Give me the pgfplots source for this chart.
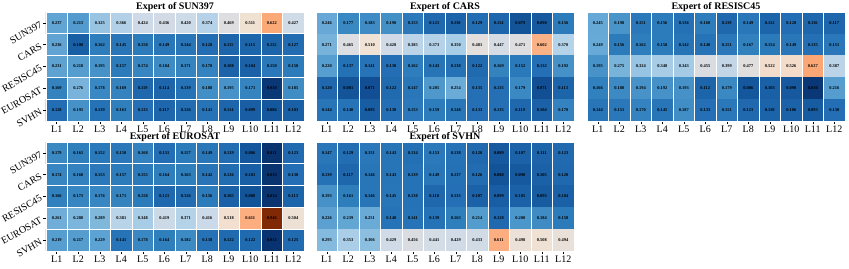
\documentclass[border=0pt]{standalone}
\usepackage{pgfplots}
\usepackage{pgfplotstable}
\pgfplotsset{compat=1.18}
\usepackage{fontspec}
\setmainfont{Liberation Serif}

\pgfplotsset{
 colormap={bluorg}{
  rgb255(0pt)=(8,48,107)
  rgb255(30pt)=(10,56,118)
  rgb255(60pt)=(14,72,140)
  rgb255(100pt)=(25,95,165)
  rgb255(130pt)=(35,110,180)
  rgb255(160pt)=(45,125,188)
  rgb255(200pt)=(75,150,203)
  rgb255(250pt)=(105,170,215)
  rgb255(300pt)=(135,188,222)
  rgb255(360pt)=(175,208,232)
  rgb255(420pt)=(205,218,232)
  rgb255(470pt)=(222,222,224)
  rgb255(510pt)=(240,226,212)
  rgb255(540pt)=(246,214,193)
  rgb255(600pt)=(251,178,135)
  rgb255(620pt)=(252,170,122)
  rgb255(700pt)=(240,125,60)
  rgb255(800pt)=(200,80,20)
  rgb255(950pt)=(127,39,4)
 },
 hm/.style={
  scale only axis, width=258pt, height=109pt,
  anchor=south west,
  xmin=-0.5, xmax=11.5, ymin=-0.5, ymax=4.5, y dir=reverse,
  enlargelimits=false,
  colormap name=bluorg, point meta min=0, point meta max=0.95,
  xtick={0,1,2,3,4,5,6,7,8,9,10,11},
  xticklabels={L1,L2,L3,L4,L5,L6,L7,L8,L9,L10,L11,L12},
  ytick={0,1,2,3,4},
  yticklabels={SUN397,CARS,RESISC45,EUROSAT,SVHN},
  yticklabel style={rotate=30, anchor=east, inner sep=2pt},
  xticklabel style={inner sep=2pt},
  minor xtick={0.5,1.5,2.5,3.5,4.5,5.5,6.5,7.5,8.5,9.5,10.5},
  minor ytick={0.5,1.5,2.5,3.5},
  grid=minor, major grid style={draw=none},
  minor grid style={white, line width=0.8pt},
  minor tick length=0pt,
  axis on top,
  axis line style={white, line width=0.8pt},
  tick align=outside, major tick length=3pt,
  tick style={black, line width=0.5pt},
  tick pos=left,
  ticklabel style={font=\fontsize{10}{10}\selectfont},
  every axis title shift=0pt,
  title style={font=\bfseries\fontsize{10}{10}\selectfont, at={(0.5,1)}, anchor=base, yshift=2.2pt},
 },
 noy/.style={ytick=\empty},
 cells/.style={matrix plot*, mesh/cols=12, point meta=explicit},
 vals/.style={only marks, mark=*, mark size=0pt, point meta=explicit symbolic,
  nodes near coords={\pgfplotspointmeta},
  every node near coord/.append style={font=\bfseries\fontsize{4.4}{4.4}\selectfont, text=black, anchor=center, inner sep=0pt}},
}

\pgfplotstableread[row sep=\\]{
x y v\\
0 0 0.237\\ 1 0 0.213\\ 2 0 0.325\\ 3 0 0.366\\ 4 0 0.424\\ 5 0 0.436\\ 6 0 0.420\\ 7 0 0.374\\ 8 0 0.469\\ 9 0 0.511\\ 10 0 0.622\\ 11 0 0.427\\
0 1 0.236\\ 1 1 0.100\\ 2 1 0.162\\ 3 1 0.145\\ 4 1 0.158\\ 5 1 0.149\\ 6 1 0.144\\ 7 1 0.128\\ 8 1 0.115\\ 9 1 0.115\\ 10 1 0.112\\ 11 1 0.127\\
0 2 0.231\\ 1 2 0.218\\ 2 2 0.195\\ 3 2 0.157\\ 4 2 0.174\\ 5 2 0.184\\ 6 2 0.171\\ 7 2 0.170\\ 8 2 0.108\\ 9 2 0.104\\ 10 2 0.150\\ 11 2 0.158\\
0 3 0.169\\ 1 3 0.276\\ 2 3 0.178\\ 3 3 0.169\\ 4 3 0.119\\ 5 3 0.114\\ 6 3 0.139\\ 7 3 0.188\\ 8 3 0.195\\ 9 3 0.171\\ 10 3 0.030\\ 11 3 0.185\\
0 4 0.128\\ 1 4 0.193\\ 2 4 0.139\\ 3 4 0.163\\ 4 4 0.133\\ 5 4 0.117\\ 6 4 0.126\\ 7 4 0.141\\ 8 4 0.114\\ 9 4 0.099\\ 10 4 0.086\\ 11 4 0.103\\
}\hmA

\pgfplotstableread[row sep=\\]{
x y v\\
0 0 0.246\\ 1 0 0.177\\ 2 0 0.183\\ 3 0 0.190\\ 4 0 0.153\\ 5 0 0.121\\ 6 0 0.110\\ 7 0 0.129\\ 8 0 0.114\\ 9 0 0.079\\ 10 0 0.090\\ 11 0 0.156\\
0 1 0.271\\ 1 1 0.465\\ 2 1 0.510\\ 3 1 0.428\\ 4 1 0.385\\ 5 1 0.373\\ 6 1 0.350\\ 7 1 0.481\\ 8 1 0.447\\ 9 1 0.471\\ 10 1 0.602\\ 11 1 0.370\\
0 2 0.220\\ 1 2 0.137\\ 2 2 0.141\\ 3 2 0.130\\ 4 2 0.162\\ 5 2 0.143\\ 6 2 0.138\\ 7 2 0.122\\ 8 2 0.169\\ 9 2 0.152\\ 10 2 0.132\\ 11 2 0.192\\
0 3 0.120\\ 1 3 0.081\\ 2 3 0.071\\ 3 3 0.122\\ 4 3 0.147\\ 5 3 0.205\\ 6 3 0.254\\ 7 3 0.135\\ 8 3 0.135\\ 9 3 0.179\\ 10 3 0.071\\ 11 3 0.113\\
0 4 0.144\\ 1 4 0.140\\ 2 4 0.095\\ 3 4 0.130\\ 4 4 0.153\\ 5 4 0.159\\ 6 4 0.148\\ 7 4 0.133\\ 8 4 0.135\\ 9 4 0.119\\ 10 4 0.104\\ 11 4 0.170\\
}\hmB

\pgfplotstableread[row sep=\\]{
x y v\\
0 0 0.245\\ 1 0 0.198\\ 2 0 0.151\\ 3 0 0.156\\ 4 0 0.136\\ 5 0 0.160\\ 6 0 0.119\\ 7 0 0.149\\ 8 0 0.112\\ 9 0 0.128\\ 10 0 0.116\\ 11 0 0.117\\
0 1 0.249\\ 1 1 0.156\\ 2 1 0.162\\ 3 1 0.158\\ 4 1 0.142\\ 5 1 0.140\\ 6 1 0.151\\ 7 1 0.167\\ 8 1 0.154\\ 9 1 0.149\\ 10 1 0.135\\ 11 1 0.151\\
0 2 0.195\\ 1 2 0.275\\ 2 2 0.324\\ 3 2 0.348\\ 4 2 0.343\\ 5 2 0.455\\ 6 2 0.399\\ 7 2 0.477\\ 8 2 0.522\\ 9 2 0.526\\ 10 2 0.627\\ 11 2 0.387\\
0 3 0.166\\ 1 3 0.180\\ 2 3 0.194\\ 3 3 0.192\\ 4 3 0.193\\ 5 3 0.112\\ 6 3 0.179\\ 7 3 0.086\\ 8 3 0.103\\ 9 3 0.090\\ 10 3 0.030\\ 11 3 0.216\\
0 4 0.144\\ 1 4 0.151\\ 2 4 0.170\\ 3 4 0.145\\ 4 4 0.187\\ 5 4 0.133\\ 6 4 0.151\\ 7 4 0.121\\ 8 4 0.110\\ 9 4 0.106\\ 10 4 0.093\\ 11 4 0.130\\
}\hmC

\pgfplotstableread[row sep=\\]{
x y v\\
0 0 0.179\\ 1 0 0.163\\ 2 0 0.152\\ 3 0 0.150\\ 4 0 0.168\\ 5 0 0.131\\ 6 0 0.157\\ 7 0 0.149\\ 8 0 0.129\\ 9 0 0.086\\ 10 0 0.011\\ 11 0 0.123\\
0 1 0.174\\ 1 1 0.168\\ 2 1 0.153\\ 3 1 0.157\\ 4 1 0.155\\ 5 1 0.164\\ 6 1 0.163\\ 7 1 0.142\\ 8 1 0.126\\ 9 1 0.101\\ 10 1 0.015\\ 11 1 0.130\\
0 2 0.166\\ 1 2 0.173\\ 2 2 0.176\\ 3 2 0.171\\ 4 2 0.158\\ 5 2 0.121\\ 6 2 0.126\\ 7 2 0.156\\ 8 2 0.105\\ 9 2 0.080\\ 10 2 0.014\\ 11 2 0.113\\
0 3 0.261\\ 1 3 0.280\\ 2 3 0.289\\ 3 3 0.381\\ 4 3 0.348\\ 5 3 0.419\\ 6 3 0.371\\ 7 3 0.416\\ 8 3 0.518\\ 9 3 0.611\\ 10 3 0.946\\ 11 3 0.504\\
0 4 0.219\\ 1 4 0.217\\ 2 4 0.229\\ 3 4 0.141\\ 4 4 0.178\\ 5 4 0.164\\ 6 4 0.182\\ 7 4 0.138\\ 8 4 0.122\\ 9 4 0.122\\ 10 4 0.013\\ 11 4 0.125\\
}\hmD

\pgfplotstableread[row sep=\\]{
x y v\\
0 0 0.147\\ 1 0 0.129\\ 2 0 0.151\\ 3 0 0.143\\ 4 0 0.134\\ 5 0 0.153\\ 6 0 0.138\\ 7 0 0.120\\ 8 0 0.089\\ 9 0 0.107\\ 10 0 0.111\\ 11 0 0.123\\
0 1 0.139\\ 1 1 0.117\\ 2 1 0.146\\ 3 1 0.143\\ 4 1 0.139\\ 5 1 0.149\\ 6 1 0.137\\ 7 1 0.126\\ 8 1 0.080\\ 9 1 0.090\\ 10 1 0.105\\ 11 1 0.120\\
0 2 0.193\\ 1 2 0.161\\ 2 2 0.146\\ 3 2 0.145\\ 4 2 0.138\\ 5 2 0.118\\ 6 2 0.133\\ 7 2 0.107\\ 8 2 0.099\\ 9 2 0.105\\ 10 2 0.093\\ 11 2 0.104\\
0 3 0.226\\ 1 3 0.239\\ 2 3 0.251\\ 3 3 0.140\\ 4 3 0.141\\ 5 3 0.139\\ 6 3 0.163\\ 7 3 0.214\\ 8 3 0.120\\ 9 3 0.200\\ 10 3 0.184\\ 11 3 0.158\\
0 4 0.295\\ 1 4 0.353\\ 2 4 0.306\\ 3 4 0.429\\ 4 4 0.456\\ 5 4 0.441\\ 6 4 0.429\\ 7 4 0.433\\ 8 4 0.611\\ 9 4 0.498\\ 10 4 0.508\\ 11 4 0.494\\
}\hmE

\begin{document}
\begin{tikzpicture}
\useasboundingbox (0pt,0pt) rectangle (849pt,268pt);
\begin{axis}[hm, at={(46pt,147pt)}, title={Expert of SUN397}]
\addplot[cells] table[x=x,y=y,meta=v]{\hmA};
\addplot[vals] table[x=x,y=y,meta=v]{\hmA};
\end{axis}
\begin{axis}[hm, noy, at={(316pt,147pt)}, title={Expert of CARS}]
\addplot[cells] table[x=x,y=y,meta=v]{\hmB};
\addplot[vals] table[x=x,y=y,meta=v]{\hmB};
\end{axis}
\begin{axis}[hm, noy, at={(587pt,147pt)}, title={Expert of RESISC45}]
\addplot[cells] table[x=x,y=y,meta=v]{\hmC};
\addplot[vals] table[x=x,y=y,meta=v]{\hmC};
\end{axis}
\begin{axis}[hm, at={(46pt,17pt)}, title={Expert of EUROSAT}]
\addplot[cells] table[x=x,y=y,meta=v]{\hmD};
\addplot[vals] table[x=x,y=y,meta=v]{\hmD};
\end{axis}
\begin{axis}[hm, noy, at={(316pt,17pt)}, title={Expert of SVHN}]
\addplot[cells] table[x=x,y=y,meta=v]{\hmE};
\addplot[vals] table[x=x,y=y,meta=v]{\hmE};
\end{axis}
\end{tikzpicture}
\end{document}
